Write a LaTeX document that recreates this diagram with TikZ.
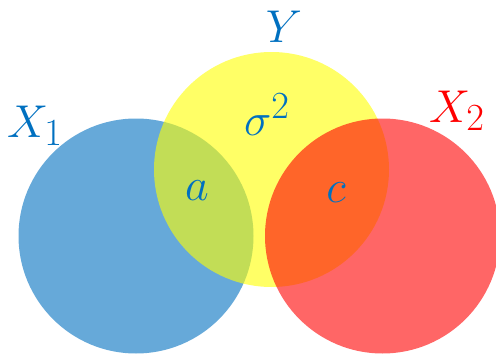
\documentclass[tikz,border=0pt]{standalone}
\usepackage{tikz}
\usepackage{graphicx}
\usepackage{xcolor}
\definecolor{vennBlue}{RGB}{0,112,192}
\definecolor{vennYellow}{RGB}{255,255,0}
\definecolor{vennRed}{RGB}{255,0,0}
\newcommand{\bigsym}[1]{\scalebox{1.85}{#1}}

\begin{document}
\begin{tikzpicture}[x=1pt, y=-1pt,
      set/.style={circle, inner sep=0pt, minimum size=235pt, fill opacity=0.6},
      lbl/.style={anchor=base, font=\Huge, text=vennBlue}
    ]
    \useasboundingbox (0,0) rectangle (496,356);
    \node[set, fill=vennBlue] (xone) at (136,236) {};
    \node[set, fill=vennYellow] (why) at (271.5,169.5) {};
    \node[set, fill=vennRed] (xtwo) at (382.5,236) {};

    \node[lbl] (xonelab) at (35,137) {\bigsym{$X_1$}};
    \node[lbl] (whylab) at (284,42) {\bigsym{$Y$}};
    \node[lbl, text=vennRed] (xtwolab) at (457,122) {\bigsym{$X_2$}};
    \node[lbl] (sigma) at (267,135) {\bigsym{$\sigma^2$}};
    \node[lbl] (alab) at (197,200) {\bigsym{$a$}};
    \node[lbl] (clab) at (336,202) {\bigsym{$c$}};
  \end{tikzpicture}
\end{document}
